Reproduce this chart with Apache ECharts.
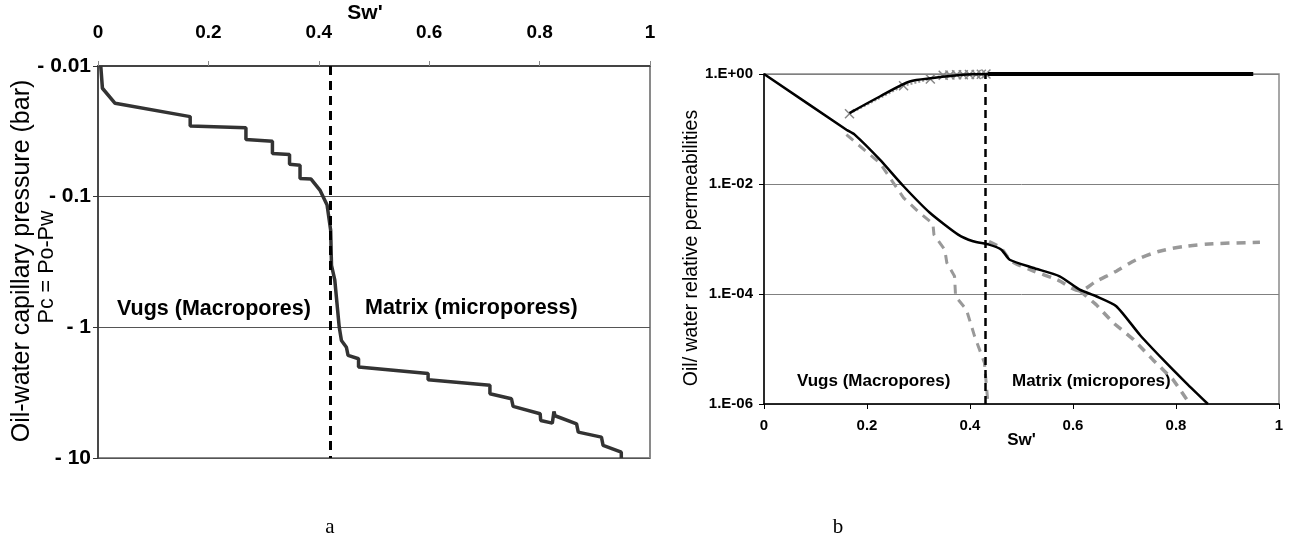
<!DOCTYPE html>
<html>
<head>
<meta charset="utf-8">
<script src="https://cdn.jsdelivr.net/npm/echarts@6/dist/echarts.min.js"></script>
<style>
  html, body { margin: 0; padding: 0; background: #ffffff; }
  #chart { width: 1294px; height: 547px; }
</style>
</head>
<body>
<div id="chart"></div>
<script>
// ---- Panel a: capillary pressure vs normalised water saturation ----
const pcCurve = [
  [0.005, 0.01], [0.008, 0.0148], [0.031, 0.0193], [0.167, 0.0244], [0.167, 0.0288],
  [0.268, 0.0297], [0.268, 0.0365], [0.316, 0.0376], [0.316, 0.0467], [0.347, 0.0475],
  [0.347, 0.0566], [0.366, 0.0574], [0.366, 0.0726], [0.386, 0.0734], [0.402, 0.089],
  [0.415, 0.116], [0.4215, 0.181], [0.423, 0.335], [0.429, 0.436], [0.437, 0.995],
  [0.441, 1.26], [0.450, 1.42], [0.453, 1.64], [0.472, 1.74], [0.472, 2.01],
  [0.598, 2.26], [0.598, 2.52], [0.710, 2.78], [0.710, 3.22], [0.749, 3.52],
  [0.752, 4.03], [0.801, 4.58], [0.802, 5.16], [0.823, 5.41], [0.826, 4.4],
  [0.828, 4.75], [0.867, 5.48], [0.870, 6.34], [0.912, 6.92], [0.915, 8.0],
  [0.948, 9.02], [0.948, 10]
];
const vugMatrixLimitA = 0.423;

// ---- Panel b: oil / water relative permeabilities ----
const krOilRise = [
  [0.166, 0.195], [0.225, 0.39], [0.283, 0.73], [0.328, 0.845], [0.386, 0.97], [0.435, 1.0]
];
const krOilFlat = [[0.435, 1.0], [0.95, 1.0]];
const krOilVugPoints = [
  [0.166, 0.19], [0.271, 0.61], [0.323, 0.81], [0.348, 0.95], [0.361, 0.96],
  [0.374, 0.97], [0.387, 0.97], [0.399, 0.98], [0.412, 0.98], [0.422, 0.99], [0.431, 1.0]
];
const krWater = [
  [0, 1], [0.16, 0.097], [0.176, 0.079], [0.225, 0.0277], [0.271, 0.0091],
  [0.322, 0.003], [0.377, 0.0012], [0.406, 0.00091], [0.437, 0.00079], [0.461, 0.00064],
  [0.477, 0.00042], [0.522, 0.0003], [0.574, 0.00021], [0.613, 0.00012], [0.645, 9.1e-5],
  [0.684, 6e-5], [0.730, 1.8e-5], [0.775, 6.4e-6], [0.820, 2.4e-6], [0.862, 1e-6]
];
const krVugs = [
  [0.16, 0.079], [0.225, 0.024], [0.271, 0.0056], [0.302, 0.003], [0.328, 0.0019],
  [0.33, 0.0012], [0.351, 0.00064], [0.355, 0.00037], [0.37, 0.00021], [0.372, 9e-5],
  [0.393, 5.2e-5], [0.409, 1.7e-5], [0.428, 5.6e-6], [0.435, 1e-6]
];
const krMatrixUpper = [
  [0.437, 9e-4], [0.46, 6.8e-4], [0.48, 4.0e-4], [0.52, 2.7e-4], [0.57, 1.8e-4],
  [0.613, 1.15e-4], [0.645, 1.7e-4], [0.684, 2.6e-4], [0.723, 4.2e-4], [0.768, 6e-4],
  [0.82, 7.4e-4], [0.872, 8.2e-4], [0.963, 8.7e-4]
];
const krMatrixLower = [
  [0.613, 1.15e-4], [0.645, 6.4e-5], [0.678, 3e-5], [0.717, 1.5e-5], [0.755, 6.4e-6],
  [0.794, 2.8e-6], [0.827, 1e-6]
];
const vugMatrixLimitB = 0.434;

const SANS = '"Liberation Sans", Arial, sans-serif';
const SERIF = '"Liberation Serif", "Times New Roman", serif';

function decade(v) { return Math.round(Math.log10(v)); }
function pcLabel(v) {
  const e = decade(v);
  const s = e < 0 ? Math.pow(10, e).toFixed(-e) : String(Math.pow(10, e));
  return '- ' + s;
}
function sciLabel(v) {
  const e = decade(v);
  const sign = e < 0 ? '-' : '+';
  const a = Math.abs(e);
  return '1.E' + sign + (a < 10 ? '0' : '') + a;
}

const chart = echarts.init(document.getElementById('chart'), null, { renderer: 'canvas' });

const option = {
  backgroundColor: '#ffffff',
  animation: false,
  grid: [
    { left: 98, top: 66, width: 552, height: 392, outerBoundsMode: 'none', containLabel: false,
      show: true, borderColor: '#8a8a8a', borderWidth: 2, backgroundColor: 'transparent' },
    { left: 764, top: 74, width: 515, height: 330, outerBoundsMode: 'none', containLabel: false,
      show: true, borderColor: '#8a8a8a', borderWidth: 1.5, backgroundColor: 'transparent' }
  ],
  xAxis: [
    {
      gridIndex: 0, type: 'value', position: 'top', min: 0, max: 1, interval: 0.2,
      name: "Sw'", nameLocation: 'middle', nameGap: 42, nameMoveOverlap: false,
      nameTextStyle: { fontFamily: SANS, fontWeight: 'bold', fontSize: 21, color: '#000', padding: [0, 18, 0, 0] },
      axisLine: { show: true, lineStyle: { color: '#444', width: 2 } },
      axisTick: { show: true, length: 5, lineStyle: { color: '#888' } },
      axisLabel: { margin: 24, fontFamily: SANS, fontWeight: 'bold', fontSize: 19, color: '#000',
        formatter: v => String(+v.toFixed(1)) },
      splitLine: { show: false }
    },
    {
      gridIndex: 1, type: 'value', position: 'bottom', min: 0, max: 1, interval: 0.2,
      name: "Sw'", nameLocation: 'middle', nameGap: 28, nameMoveOverlap: false,
      nameTextStyle: { fontFamily: SANS, fontWeight: 'bold', fontSize: 17, color: '#000' },
      axisLine: { show: true, onZero: false, lineStyle: { color: '#000', width: 1.5 } },
      axisTick: { show: true, length: 5, lineStyle: { color: '#000' } },
      axisLabel: { margin: 14, fontFamily: SANS, fontWeight: 'bold', fontSize: 15, color: '#000',
        formatter: v => String(+v.toFixed(1)) },
      splitLine: { show: false }
    }
  ],
  yAxis: [
    {
      gridIndex: 0, type: 'log', logBase: 10, min: 0.01, max: 10, inverse: true,
      axisLine: { show: true, lineStyle: { color: '#333', width: 1.5 } },
      axisTick: { show: true, length: 5, lineStyle: { color: '#333' } },
      axisLabel: { margin: 7, fontFamily: SANS, fontWeight: 'bold', fontSize: 21, color: '#000', formatter: pcLabel },
      splitLine: { show: true, lineStyle: { color: '#555', width: 1 } }
    },
    {
      gridIndex: 1, type: 'log', logBase: 10, min: 1e-6, max: 1, interval: 2,
      name: 'Oil/ water relative permeabilities', nameLocation: 'middle', nameGap: 61,
      nameRotate: 90,
      nameTextStyle: { fontFamily: SANS, fontSize: 19.5, color: '#000', padding: [0, 18, 0, 0] },
      axisLine: { show: true, onZero: false, lineStyle: { color: '#000', width: 1.5 } },
      axisTick: { show: true, length: 5, lineStyle: { color: '#000' } },
      axisLabel: { margin: 11, fontFamily: SANS, fontWeight: 'bold', fontSize: 15, color: '#000', formatter: sciLabel },
      splitLine: { show: true, lineStyle: { color: '#808080', width: 1 } }
    }
  ],
  series: [
    // panel a
    {
      type: 'line', xAxisIndex: 0, yAxisIndex: 0, data: pcCurve, showSymbol: false,
      lineStyle: { color: '#333333', width: 3.5 }, z: 3,
      markLine: {
        silent: true, symbol: 'none', label: { show: false },
        lineStyle: { color: '#000', width: 3, type: [9, 6] },
        data: [{ xAxis: vugMatrixLimitA }]
      }
    },
    // panel b – grey laboratory curves underneath
    {
      type: 'line', xAxisIndex: 1, yAxisIndex: 1, data: krVugs, showSymbol: false,
      lineStyle: { color: '#999999', width: 3, type: [9, 7] }, z: 2
    },
    {
      type: 'line', xAxisIndex: 1, yAxisIndex: 1, data: krMatrixUpper, showSymbol: false, smooth: 0.3,
      lineStyle: { color: '#999999', width: 3.5, type: [9, 7] }, z: 2
    },
    {
      type: 'line', xAxisIndex: 1, yAxisIndex: 1, data: krMatrixLower, showSymbol: false,
      lineStyle: { color: '#999999', width: 3.5, type: [9, 7] }, z: 2
    },
    {
      type: 'line', xAxisIndex: 1, yAxisIndex: 1, data: krOilVugPoints,
      symbol: 'path://M0 0L10 10M10 0L0 10', symbolSize: 9,
      itemStyle: { color: 'transparent', borderColor: '#888', borderWidth: 1.5 },
      lineStyle: { color: '#999', width: 2, type: 'dotted' }, z: 2
    },
    // panel b – black model curves
    {
      type: 'line', xAxisIndex: 1, yAxisIndex: 1, data: krOilRise, showSymbol: false, smooth: 0.3,
      lineStyle: { color: '#000', width: 2.5 }, z: 4
    },
    {
      type: 'line', xAxisIndex: 1, yAxisIndex: 1, data: krOilFlat, showSymbol: false,
      lineStyle: { color: '#000', width: 4 }, z: 4
    },
    {
      type: 'line', xAxisIndex: 1, yAxisIndex: 1, data: krWater, showSymbol: false, smooth: 0.2,
      lineStyle: { color: '#000', width: 2.5 }, z: 4,
      markLine: {
        silent: true, symbol: 'none', label: { show: false },
        lineStyle: { color: '#000', width: 2.5, type: [8, 5] },
        data: [{ xAxis: vugMatrixLimitB }]
      }
    }
  ],
  graphic: [
    // two-line title of the capillary pressure axis
    { type: 'text', x: 22, y: 261, rotation: Math.PI / 2,
      style: { text: 'Oil-water capillary pressure (bar)', fontFamily: SANS, fontSize: 25, fill: '#000',
        align: 'center', verticalAlign: 'middle' } },
    { type: 'text', x: 47, y: 267, rotation: Math.PI / 2,
      style: { text: 'Pc = Po-Pw', fontFamily: SANS, fontSize: 21.5, fill: '#000',
        align: 'center', verticalAlign: 'middle' } },
    // region annotations
    { type: 'text', x: 117, y: 309, style: { text: 'Vugs (Macropores)', fontFamily: SANS, fontWeight: 'bold', fontSize: 21.5, fill: '#000', verticalAlign: 'middle' } },
    { type: 'text', x: 365, y: 308, style: { text: 'Matrix (microporess)', fontFamily: SANS, fontWeight: 'bold', fontSize: 21.5, fill: '#000', verticalAlign: 'middle' } },
    { type: 'text', x: 797, y: 381, style: { text: 'Vugs (Macropores)', fontFamily: SANS, fontWeight: 'bold', fontSize: 17, fill: '#000', verticalAlign: 'middle' } },
    { type: 'text', x: 1012, y: 381, style: { text: 'Matrix (micropores)', fontFamily: SANS, fontWeight: 'bold', fontSize: 17, fill: '#000', verticalAlign: 'middle' } },
    // panel letters
    { type: 'text', x: 330, y: 527, style: { text: 'a', fontFamily: SERIF, fontSize: 21, fill: '#000', align: 'center', verticalAlign: 'middle' } },
    { type: 'text', x: 838, y: 527, style: { text: 'b', fontFamily: SERIF, fontSize: 21, fill: '#000', align: 'center', verticalAlign: 'middle' } }
  ]
};

chart.setOption(option);
</script>
</body>
</html>
